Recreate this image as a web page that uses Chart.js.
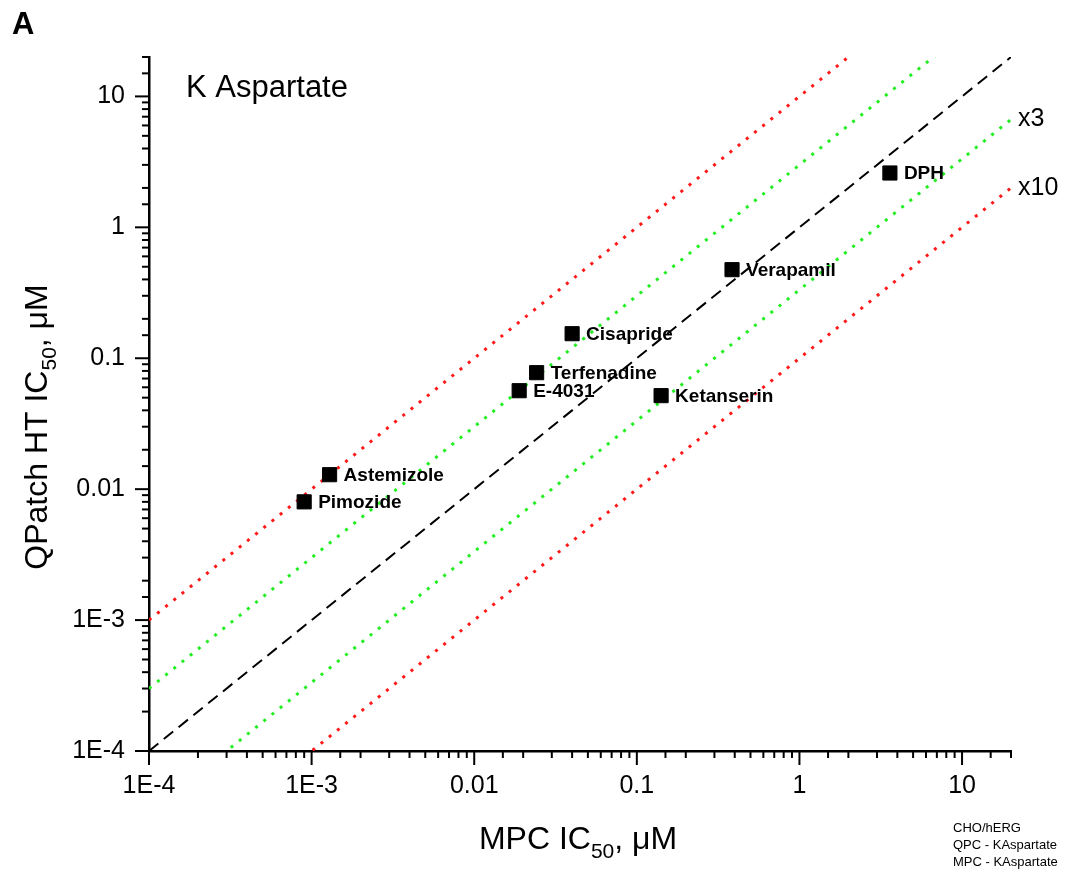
<!DOCTYPE html>
<html>
<head>
<meta charset="utf-8">
<script src="https://cdn.jsdelivr.net/npm/chart.js@4/dist/chart.umd.min.js"></script>
<style>
  html, body { margin: 0; padding: 0; background: #fff; }
  #wrap { width: 1076px; height: 874px; position: relative; }
</style>
</head>
<body>
<div id="wrap"><canvas id="chart"></canvas></div>
<script>
// data
const drugs = ['DPH', 'Verapamil', 'Cisapride', 'Terfenadine', 'E-4031', 'Ketanserin', 'Astemizole', 'Pimozide'];
const mpcIC50 = [3.6, 0.385, 0.040, 0.0242, 0.0189, 0.141, 0.00129, 0.00090];
const qpcIC50 = [2.6, 0.475, 0.154, 0.0776, 0.0565, 0.0518, 0.0129, 0.0080];
const foldFactors = [10, 3, 1, 1 / 3, 1 / 10];
const foldColors = ['#ff1a1a', '#22ee22', '#000000', '#22ee22', '#ff1a1a'];
const axisMin = 1e-4;
const axisMax = 20;
const majorTicks = [1e-4, 1e-3, 0.01, 0.1, 1, 10];
const majorLabels = ['1E-4', '1E-3', '0.01', '0.1', '1', '10'];
const footNote = ['CHO/hERG', 'QPC - KAspartate', 'MPC - KAspartate'];

const FONT = 'Arial, "Liberation Sans", sans-serif';

function tickLabel(v) {
    const i = majorTicks.findIndex(m => Math.abs(Math.log10(m) - Math.log10(v)) < 1e-6);
    return i >= 0 ? majorLabels[i] : '';
}

const lineSets = foldFactors.map((f, i) => ({
    type: 'line',
    data: [{x: axisMin, y: axisMin * f}, {x: axisMax, y: axisMax * f}],
    borderColor: foldColors[i],
    borderWidth: f === 1 ? 2 : 3,
    borderDash: f === 1 ? [12, 7] : [3, 7.5],
    pointRadius: 0,
    fill: false,
    order: 2
}));

const pointSet = {
    type: 'scatter',
    data: drugs.map((d, i) => ({x: mpcIC50[i], y: qpcIC50[i]})),
    pointStyle: 'rect',
    pointRadius: 10,
    backgroundColor: '#000',
    borderColor: '#000',
    borderWidth: 1,
    order: 1
};

// ticks, titles and text labels
const decor = {
    id: 'decor',
    afterDraw(chart) {
        const c = chart.ctx;
        const xs = chart.scales.x, ys = chart.scales.y;
        const ca = chart.chartArea;
        c.save();
        c.strokeStyle = '#000';
        c.lineWidth = 2;
        xs.ticks.forEach(t => {
            const px = xs.getPixelForValue(t.value);
            const len = tickLabel(t.value) ? 14 : 7;
            c.beginPath(); c.moveTo(px, ca.bottom); c.lineTo(px, ca.bottom + len); c.stroke();
        });
        ys.ticks.forEach(t => {
            const py = ys.getPixelForValue(t.value);
            const len = tickLabel(t.value) ? 14 : 7;
            c.beginPath(); c.moveTo(ca.left, py); c.lineTo(ca.left - len, py); c.stroke();
        });

        // point names
        c.fillStyle = '#000';
        c.font = 'bold 19px ' + FONT;
        c.textBaseline = 'middle';
        c.textAlign = 'left';
        drugs.forEach((d, i) => {
            c.fillText(d, xs.getPixelForValue(mpcIC50[i]) + 14, ys.getPixelForValue(qpcIC50[i]) + 1);
        });

        // fold labels
        c.font = '25px ' + FONT;
        [[1 / 3, 'x3'], [1 / 10, 'x10']].forEach(([f, s]) => {
            c.fillText(s, ca.right + 7, ys.getPixelForValue(axisMax * f));
        });

        // panel letter and condition
        c.font = 'bold 31px ' + FONT;
        c.fillText('A', 12, 25);
        c.font = '31px ' + FONT;
        c.fillText('K Aspartate', 186, 88);

        // axis titles with subscript
        function subTitle(a, sub, b) {
            c.font = '32px ' + FONT;
            const wa = c.measureText(a).width, wb = c.measureText(b).width;
            c.font = '21px ' + FONT;
            const ws = c.measureText(sub).width;
            const w = wa + ws + wb;
            c.textAlign = 'left';
            c.textBaseline = 'alphabetic';
            c.font = '32px ' + FONT;
            c.fillText(a, -w / 2, 0);
            c.font = '21px ' + FONT;
            c.fillText(sub, -w / 2 + wa, 9);
            c.font = '32px ' + FONT;
            c.fillText(b, -w / 2 + wa + ws, 0);
        }
        c.save();
        c.translate(578, 849);
        subTitle('MPC IC', '50', ', \u03bcM');
        c.restore();
        c.save();
        c.translate(47, 427);
        c.rotate(-Math.PI / 2);
        subTitle('QPatch HT IC', '50', ', \u03bcM');
        c.restore();

        // footnote
        c.font = '13px ' + FONT;
        c.textBaseline = 'middle';
        footNote.forEach((s, i) => c.fillText(s, 953, 828 + i * 17));
        c.restore();
    }
};

new Chart(document.getElementById('chart'), {
    data: {datasets: [...lineSets, pointSet]},
    options: {
        responsive: true,
        maintainAspectRatio: false,
        animation: false,
        events: [],
        layout: {padding: {left: 0, right: 65, top: 57, bottom: 0}},
        plugins: {legend: {display: false}, tooltip: {enabled: false}},
        scales: {
            x: {
                type: 'logarithmic',
                min: axisMin,
                max: axisMax,
                grid: {display: false, drawTicks: false},
                border: {display: true, color: '#000', width: 2.5},
                ticks: {
                    autoSkip: false,
                    maxRotation: 0,
                    padding: 20,
                    color: '#000',
                    font: {family: FONT, size: 25},
                    callback: v => tickLabel(v)
                },
                afterFit(s) { s.height = 123; }
            },
            y: {
                type: 'logarithmic',
                min: axisMin,
                max: axisMax,
                grid: {display: false, drawTicks: false},
                border: {display: true, color: '#000', width: 2.5},
                ticks: {
                    autoSkip: false,
                    padding: 24,
                    color: '#000',
                    font: {family: FONT, size: 25},
                    callback: v => tickLabel(v)
                },
                afterFit(s) { s.width = 149; }
            }
        }
    },
    plugins: [decor]
});
</script>
</body>
</html>
